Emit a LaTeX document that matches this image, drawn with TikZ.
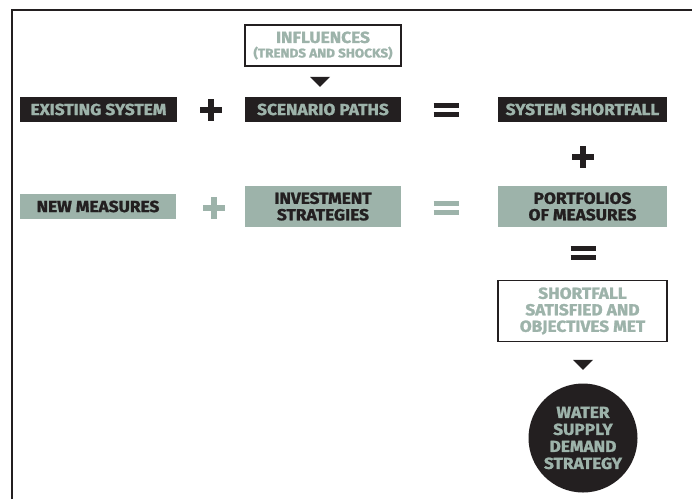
\documentclass[tikz,border=0pt]{standalone}
\usepackage{fontspec}
\setmainfont{Fira Sans}[FakeStretch=1.08,BoldFeatures={FakeBold=1.4}]
\usetikzlibrary{positioning,shapes.geometric}

\definecolor{ink}{HTML}{231F20}
\definecolor{sage}{HTML}{9DB3AA}

\tikzset{
  box/.style={inner sep=0pt,align=center,font=\fontsize{16}{16.5}\selectfont\bfseries,minimum width=156pt},
  darkbox/.style={box,fill=ink,text=sage,minimum height=25pt},
  sagebox/.style={box,fill=sage,text=ink,minimum height=25pt},
  whitebox/.style={box,draw=ink,line width=1.6pt,fill=white,text=sage},
  pointer/.style={isosceles triangle,isosceles triangle apex angle=90,shape border rotate=-90,
    fill=ink,inner sep=0pt,minimum height=10pt,minimum width=20pt},
  plussign/.pic={\draw[line width=6pt] (-11,0) -- (11,0) (0,-11) -- (0,11);},
  eqsign/.pic={\draw[line width=5pt] (-12.5,-4.5) -- (12.5,-4.5) (-12.5,4.5) -- (12.5,4.5);}
}

\begin{document}
\begin{tikzpicture}[x=1pt,y=-1pt]
\useasboundingbox (0,0) rectangle (692,499);
% frame
\draw[ink,line width=2.5pt] (12,499) -- (12,10) -- (692,10);

% top row
\node[whitebox,minimum height=41pt] (infl) at (323,45.5)
  {INFLUENCES\\[-2pt]{\fontsize{12.5}{13}\selectfont (TRENDS AND SHOCKS)}};
\node[pointer] (tri1) at (320,81) {};
\node[darkbox,minimum width=157pt] (exist) at (98.5,109.5) {EXISTING SYSTEM};
\node[darkbox] (scen) at (323,109.5) {SCENARIO PATHS};
\node[darkbox,minimum width=169pt] (short) at (582.5,109.5) {SYSTEM SHORTFALL};
\pic[ink] at (211,110) {plussign};
\pic[ink] at (446,110) {eqsign};
\pic[ink] at (583,157) {plussign};

% second row
\node[sagebox] (newm) at (98,206.5) {NEW MEASURES};
\node[sagebox,minimum height=41pt] (invest) at (323,206.5) {INVESTMENT\\STRATEGIES};
\node[sagebox,minimum height=41pt,minimum width=169pt] (port) at (582.5,206.5) {PORTFOLIOS\\OF MEASURES};
\pic[sage] at (214,208) {plussign};
\pic[sage] at (446,208) {eqsign};
\pic[ink] at (583,253) {eqsign};

% outcome
\node[whitebox,minimum height=61pt,minimum width=169pt] (sat) at (582.5,311)
  {SHORTFALL\\SATISFIED AND\\OBJECTIVES MET};
\node[pointer] (tri2) at (583,364) {};
\node[circle,fill=ink,text=sage,minimum size=109pt,inner sep=0pt,align=center,
  font=\fontsize{16}{17}\selectfont\bfseries] (wsds) at (583,438)
  {WATER\\SUPPLY\\DEMAND\\STRATEGY};
\end{tikzpicture}
\end{document}
